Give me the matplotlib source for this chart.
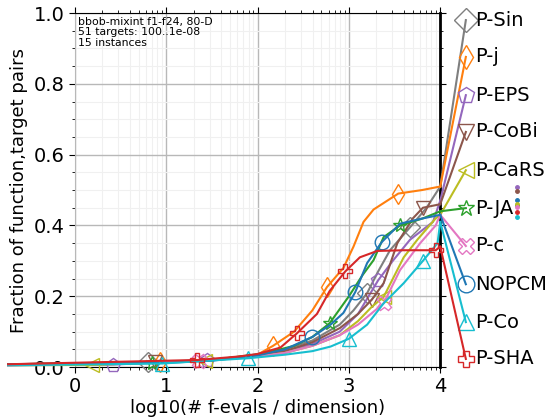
import numpy as np
import matplotlib
matplotlib.use('Agg')
import matplotlib.pyplot as plt
from matplotlib.ticker import FixedLocator, MultipleLocator

# ECDF curves per algorithm (log10 evals/dim, fraction of targets)
names = ['P-Sin', 'P-j', 'P-EPS', 'P-CoBi', 'P-CaRS', 'P-JA', 'P-c', 'NOPCM', 'P-Co', 'P-SHA']
colors = ['#7f7f7f', '#ff7f0e', '#9467bd', '#8c564b', '#bcbd22',
          '#2ca02c', '#e377c2', '#1f77b4', '#17becf', '#d62728']
markers = ['D', 'd', 'p', 'v', '<', '*', 'X', 'o', '^', 'P']

x_sin = [-0.73, 0.8, 1.5, 2.0, 2.3, 2.6, 2.9, 3.05, 3.2, 3.32, 3.45, 3.67, 3.85, 4.0]
y_sin = [0.008, 0.014, 0.02, 0.035, 0.05, 0.075, 0.12, 0.16, 0.209, 0.27, 0.33, 0.395, 0.45, 0.51]
x_j = [-0.73, 0.93, 1.5, 2.0, 2.17, 2.4, 2.6, 2.76, 2.94, 3.05, 3.16, 3.27, 3.54, 3.8, 4.0]
y_j = [0.008, 0.013, 0.02, 0.035, 0.06, 0.10, 0.16, 0.226, 0.28, 0.34, 0.41, 0.445, 0.49, 0.50, 0.51]
x_eps = [-0.73, 0.42, 1.45, 2.0, 2.3, 2.6, 2.9, 3.1, 3.32, 3.48, 3.67, 3.92, 4.0]
y_eps = [0.005, 0.007, 0.02, 0.033, 0.045, 0.065, 0.1, 0.15, 0.245, 0.30, 0.36, 0.41, 0.47]
x_cobi = [-0.73, 0.88, 1.5, 2.0, 2.3, 2.6, 2.9, 3.1, 3.25, 3.38, 3.53, 3.7, 3.81, 4.0]
y_cobi = [0.008, 0.013, 0.02, 0.033, 0.045, 0.07, 0.11, 0.15, 0.19, 0.237, 0.35, 0.42, 0.45, 0.46]
x_cars = [-0.73, 0.19, 1.42, 2.0, 2.3, 2.6, 2.9, 3.1, 3.25, 3.38, 3.6, 3.75, 3.95, 4.0]
y_cars = [0.005, 0.006, 0.018, 0.03, 0.04, 0.06, 0.09, 0.13, 0.17, 0.198, 0.31, 0.36, 0.42, 0.43]
x_ja = [-0.73, 0.85, 1.5, 2.06, 2.4, 2.6, 2.79, 3.0, 3.15, 3.27, 3.38, 3.56, 3.81, 4.0]
y_ja = [0.008, 0.012, 0.02, 0.038, 0.06, 0.085, 0.124, 0.2, 0.26, 0.302, 0.367, 0.40, 0.42, 0.44]
x_c = [-0.73, 1.36, 2.0, 2.3, 2.6, 2.9, 3.1, 3.38, 3.56, 3.78, 3.95, 4.0]
y_c = [0.005, 0.018, 0.03, 0.04, 0.06, 0.09, 0.12, 0.18, 0.274, 0.35, 0.40, 0.43]
x_nopcm = [-0.73, 1.0, 1.5, 2.0, 2.3, 2.6, 2.8, 2.94, 3.07, 3.2, 3.36, 3.56, 3.81, 4.0]
y_nopcm = [0.008, 0.012, 0.018, 0.033, 0.05, 0.085, 0.12, 0.153, 0.212, 0.294, 0.353, 0.405, 0.42, 0.43]
x_co = [-0.73, 0.95, 1.9, 2.3, 2.6, 2.8, 3.0, 3.2, 3.38, 3.6, 3.81, 3.97, 4.0]
y_co = [0.005, 0.01, 0.025, 0.035, 0.045, 0.058, 0.08, 0.12, 0.18, 0.237, 0.30, 0.35, 0.41]
x_sha = [-0.73, 1.34, 1.8, 2.0, 2.25, 2.43, 2.65, 2.79, 2.96, 3.12, 3.31, 3.6, 3.95, 4.0]
y_sha = [0.008, 0.02, 0.03, 0.037, 0.055, 0.095, 0.15, 0.215, 0.27, 0.31, 0.328, 0.33, 0.33, 0.34]

xs = [x_sin, x_j, x_eps, x_cobi, x_cars, x_ja, x_c, x_nopcm, x_co, x_sha]
ys = [y_sin, y_j, y_eps, y_cobi, y_cars, y_ja, y_c, y_nopcm, y_co, y_sha]
# indices of points carrying a marker
mark_idx = [[1, 8, 11], [1, 4, 7, 12], [1, 2, 8], [1, 8, 12], [1, 2, 9],
            [1, 6, 11], [1, 7], [5, 8, 10], [1, 2, 6, 10], [1, 5, 8, 12]]

# label positions at the right
label_y = [0.98, 0.876, 0.768, 0.664, 0.556, 0.449, 0.342, 0.234, 0.127, 0.023]
label_x = 4.28

# small dots on the right
dot_names = ['P-EPS', 'P-CoBi', 'NOPCM', 'P-JA', 'P-CaRS', 'P-c', 'P-SHA', 'P-Co']
dot_y = [0.508, 0.497, 0.472, 0.458, 0.461, 0.452, 0.438, 0.424]

fig = plt.figure(figsize=(5.58, 4.2), dpi=100)
ax = fig.add_axes([0.134, 0.126, 0.655, 0.843])

for i, name in enumerate(names):
    ax.plot(xs[i], ys[i], color=colors[i], lw=1.5, marker=markers[i], markevery=mark_idx[i],
            markersize=10.5, markerfacecolor='none', markeredgewidth=1, clip_on=False, zorder=3)
    # line to label
    ax.plot([xs[i][-1], label_x], [ys[i][-1], label_y[i]], color=colors[i], lw=1.5,
            clip_on=False, zorder=3)
    ax.plot([label_x], [label_y[i]], color=colors[i], marker=markers[i], markersize=12,
            markerfacecolor='none', markeredgewidth=1, clip_on=False, zorder=3)
    ax.text(label_x + 0.1, label_y[i], name, fontsize=14, va='center', ha='left')

for nm, yv in zip(dot_names, dot_y):
    ax.plot([4.84], [yv], 'o', color=colors[names.index(nm)], markersize=2.5, clip_on=False)

ax.set_xlim(0, 4)
ax.set_ylim(0, 1)
ax.set_xticks([0, 1, 2, 3, 4])
minor_x = [np.log10(k) + d for d in range(4) for k in range(2, 10)]
ax.xaxis.set_minor_locator(FixedLocator(minor_x))
ax.yaxis.set_major_locator(MultipleLocator(0.2))
ax.yaxis.set_minor_locator(MultipleLocator(0.05))
ax.grid(True, which='major', color='#b8b8b8', lw=1)
ax.grid(True, which='minor', color='#f0f0f0', lw=0.8)
ax.set_axisbelow(True)
ax.tick_params(which='both', direction='out', top=True, right=True, labelsize=14)
ax.tick_params(which='major', length=4)
ax.tick_params(which='minor', length=2)
ax.spines['right'].set_linewidth(2)
ax.spines['left'].set_color('#b8b8b8')

ax.set_xlabel('log10(# f-evals / dimension)', fontsize=13, labelpad=2)
ax.set_ylabel('Fraction of function,target pairs', fontsize=13)

ax.text(0.01, 0.99, 'bbob-mixint f1-f24, 80-D\n51 targets: 100..1e-08\n15 instances',
        transform=ax.transAxes, fontsize=7.8, va='top', ha='left', linespacing=1.1)

fig.savefig('out.png', dpi=100)
